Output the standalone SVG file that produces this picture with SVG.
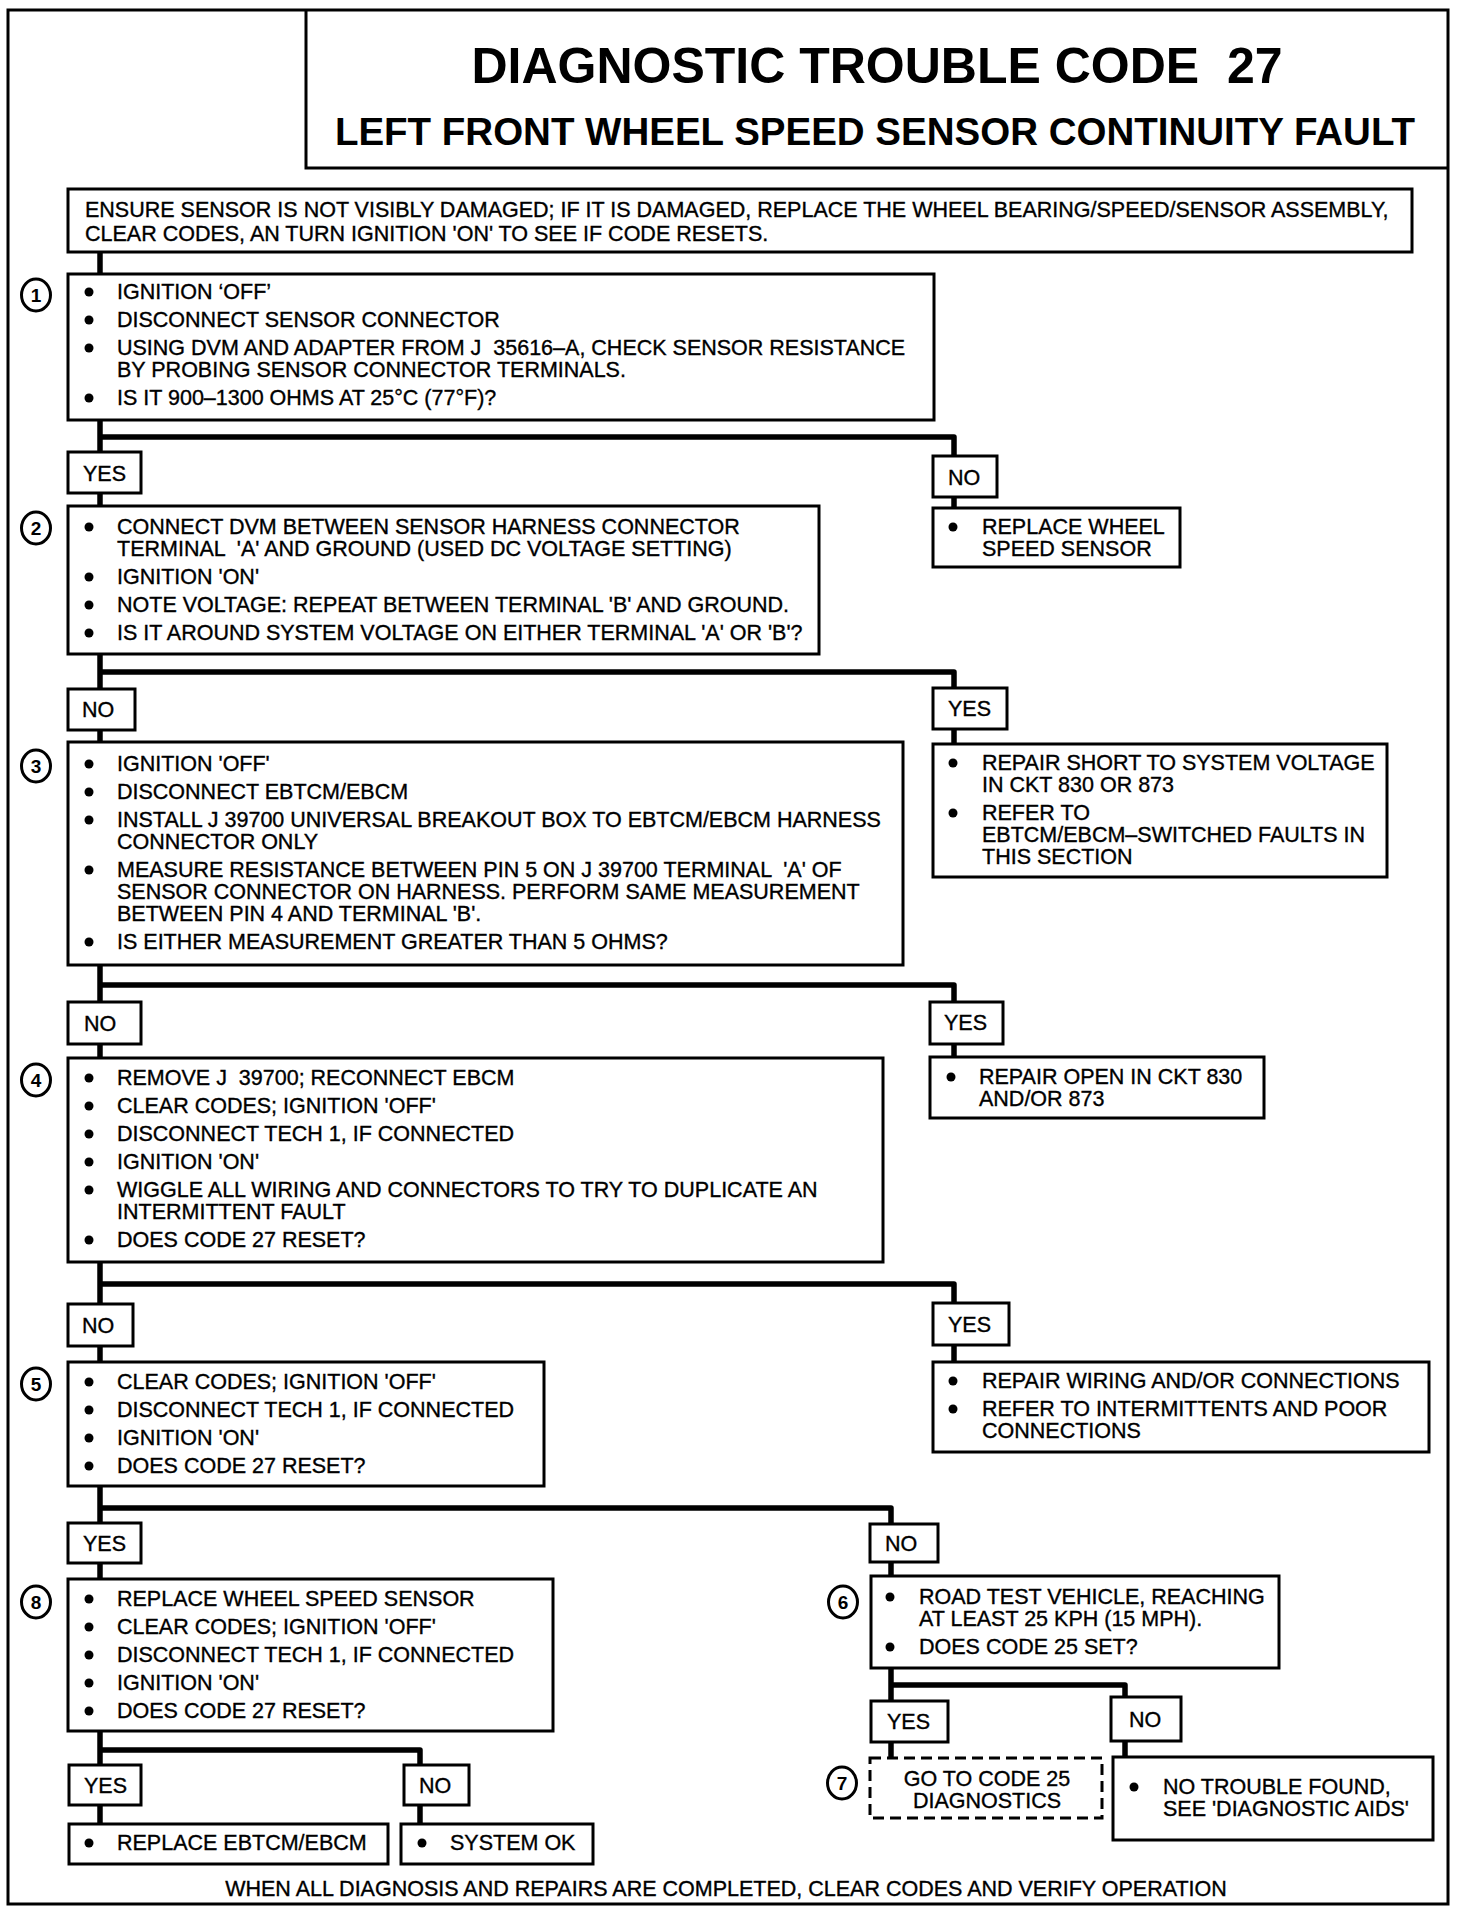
<svg xmlns="http://www.w3.org/2000/svg" width="1472" height="1914" viewBox="0 0 1472 1914">
<style>
  .frame{fill:none;stroke:#000;stroke-width:3}
  .box{fill:#fff;stroke:#000;stroke-width:3}
  .dash{fill:#fff;stroke:#000;stroke-width:3;stroke-dasharray:11 6}
  .conn{fill:none;stroke:#000;stroke-width:5.5;stroke-linejoin:round;stroke-linecap:butt}
  .num{fill:#fff;stroke:#000;stroke-width:3}
  text{font-family:"Liberation Sans",Arial,Helvetica,sans-serif;fill:#000;white-space:pre}
  .t{font-size:21.5px;stroke:#000;stroke-width:0.35}
  .n{font-size:19px;font-weight:bold;text-anchor:middle}
  .c{text-anchor:middle}
  .h1{font-size:50px;font-weight:bold;text-anchor:middle}
  .h2{font-size:38.5px;font-weight:bold;text-anchor:middle}
  .b{fill:#000}
</style>

<rect class="frame" x="8" y="10" width="1440" height="1894"/>

<g id="title">
  <path class="frame" d="M306 10 V168 H1448"/>
  <text class="h1" x="877" y="83">DIAGNOSTIC TROUBLE CODE  27</text>
  <text class="h2" x="875" y="145">LEFT FRONT WHEEL SPEED SENSOR CONTINUITY FAULT</text>
</g>

<g id="connectors">
  <path class="conn" d="M100 252 V274"/>
  <path class="conn" d="M100 420 V452"/>
  <path class="conn" d="M100 437 H954 V456"/>
  <path class="conn" d="M954 497 V508"/>
  <path class="conn" d="M100 493 V506"/>
  <path class="conn" d="M100 654 V689"/>
  <path class="conn" d="M100 672 H954 V688"/>
  <path class="conn" d="M954 729 V744"/>
  <path class="conn" d="M100 730 V742"/>
  <path class="conn" d="M100 965 V1002"/>
  <path class="conn" d="M100 985 H954 V1002"/>
  <path class="conn" d="M954 1044 V1057"/>
  <path class="conn" d="M100 1044 V1058"/>
  <path class="conn" d="M100 1262 V1304"/>
  <path class="conn" d="M100 1284 H954 V1303"/>
  <path class="conn" d="M954 1345 V1362"/>
  <path class="conn" d="M100 1346 V1362"/>
  <path class="conn" d="M100 1486 V1523"/>
  <path class="conn" d="M100 1508 H891 V1524"/>
  <path class="conn" d="M100 1563 V1579"/>
  <path class="conn" d="M891 1562 V1576"/>
  <path class="conn" d="M100 1731 V1765"/>
  <path class="conn" d="M100 1750 H420 V1765"/>
  <path class="conn" d="M100 1805 V1824"/>
  <path class="conn" d="M420 1805 V1824"/>
  <path class="conn" d="M891 1668 V1701"/>
  <path class="conn" d="M891 1685 H1125 V1697"/>
  <path class="conn" d="M891 1742 V1758"/>
  <path class="conn" d="M1125 1741 V1757"/>
</g>

<g id="intro">
  <rect class="box" x="68" y="189" width="1344" height="63"/>
  <text class="t" x="85" y="217">ENSURE SENSOR IS NOT VISIBLY DAMAGED; IF IT IS DAMAGED, REPLACE THE WHEEL BEARING/SPEED/SENSOR ASSEMBLY,</text>
  <text class="t" x="85" y="241">CLEAR CODES, AN TURN IGNITION 'ON' TO SEE IF CODE RESETS.</text>
</g>

<g id="step1">
  <ellipse class="num" cx="36" cy="295" rx="14.5" ry="16"/>
  <text class="n" x="36" y="302">1</text>
  <rect class="box" x="68" y="274" width="866" height="146"/>
  <circle class="b" cx="89" cy="292" r="4.5"/><text class="t" x="117" y="299">IGNITION ‘OFF’</text>
  <circle class="b" cx="89" cy="320" r="4.5"/><text class="t" x="117" y="327">DISCONNECT SENSOR CONNECTOR</text>
  <circle class="b" cx="89" cy="348" r="4.5"/><text class="t" x="117" y="355">USING DVM AND ADAPTER FROM J  35616–A, CHECK SENSOR RESISTANCE</text>
  <text class="t" x="117" y="377">BY PROBING SENSOR CONNECTOR TERMINALS.</text>
  <circle class="b" cx="89" cy="398" r="4.5"/><text class="t" x="117" y="405">IS IT 900–1300 OHMS AT 25°C (77°F)?</text>
</g>

<g id="yes1">
  <rect class="box" x="68" y="452" width="73" height="41"/>
  <text class="t" x="83" y="481">YES</text>
</g>
<g id="no1">
  <rect class="box" x="933" y="456" width="64" height="41"/>
  <text class="t" x="948" y="485">NO</text>
</g>
<g id="replace-sensor">
  <rect class="box" x="933" y="508" width="247" height="59"/>
  <circle class="b" cx="953" cy="527" r="4.5"/><text class="t" x="982" y="534">REPLACE WHEEL</text>
  <text class="t" x="982" y="556">SPEED SENSOR</text>
</g>

<g id="step2">
  <ellipse class="num" cx="36" cy="528" rx="14.5" ry="16"/>
  <text class="n" x="36" y="535">2</text>
  <rect class="box" x="68" y="506" width="751" height="148"/>
  <circle class="b" cx="89" cy="527" r="4.5"/><text class="t" x="117" y="534">CONNECT DVM BETWEEN SENSOR HARNESS CONNECTOR</text>
  <text class="t" x="117" y="556">TERMINAL  'A' AND GROUND (USED DC VOLTAGE SETTING)</text>
  <circle class="b" cx="89" cy="577" r="4.5"/><text class="t" x="117" y="584">IGNITION 'ON'</text>
  <circle class="b" cx="89" cy="605" r="4.5"/><text class="t" x="117" y="612">NOTE VOLTAGE: REPEAT BETWEEN TERMINAL 'B' AND GROUND.</text>
  <circle class="b" cx="89" cy="633" r="4.5"/><text class="t" x="117" y="640">IS IT AROUND SYSTEM VOLTAGE ON EITHER TERMINAL 'A' OR 'B'?</text>
</g>

<g id="no2">
  <rect class="box" x="68" y="689" width="67" height="41"/>
  <text class="t" x="82" y="717">NO</text>
</g>
<g id="yes2">
  <rect class="box" x="933" y="688" width="74" height="41"/>
  <text class="t" x="948" y="716">YES</text>
</g>
<g id="repair-short">
  <rect class="box" x="933" y="744" width="454" height="133"/>
  <circle class="b" cx="953" cy="763" r="4.5"/><text class="t" x="982" y="770">REPAIR SHORT TO SYSTEM VOLTAGE</text>
  <text class="t" x="982" y="792">IN CKT 830 OR 873</text>
  <circle class="b" cx="953" cy="813" r="4.5"/><text class="t" x="982" y="820">REFER TO</text>
  <text class="t" x="982" y="842">EBTCM/EBCM–SWITCHED FAULTS IN</text>
  <text class="t" x="982" y="864">THIS SECTION</text>
</g>

<g id="step3">
  <ellipse class="num" cx="36" cy="766" rx="14.5" ry="16"/>
  <text class="n" x="36" y="773">3</text>
  <rect class="box" x="68" y="742" width="835" height="223"/>
  <circle class="b" cx="89" cy="764" r="4.5"/><text class="t" x="117" y="771">IGNITION 'OFF'</text>
  <circle class="b" cx="89" cy="792" r="4.5"/><text class="t" x="117" y="799">DISCONNECT EBTCM/EBCM</text>
  <circle class="b" cx="89" cy="820" r="4.5"/><text class="t" x="117" y="827">INSTALL J 39700 UNIVERSAL BREAKOUT BOX TO EBTCM/EBCM HARNESS</text>
  <text class="t" x="117" y="849">CONNECTOR ONLY</text>
  <circle class="b" cx="89" cy="870" r="4.5"/><text class="t" x="117" y="877">MEASURE RESISTANCE BETWEEN PIN 5 ON J 39700 TERMINAL  'A' OF</text>
  <text class="t" x="117" y="899">SENSOR CONNECTOR ON HARNESS. PERFORM SAME MEASUREMENT</text>
  <text class="t" x="117" y="921">BETWEEN PIN 4 AND TERMINAL 'B'.</text>
  <circle class="b" cx="89" cy="942" r="4.5"/><text class="t" x="117" y="949">IS EITHER MEASUREMENT GREATER THAN 5 OHMS?</text>
</g>

<g id="no3">
  <rect class="box" x="68" y="1002" width="73" height="42"/>
  <text class="t" x="84" y="1031">NO</text>
</g>
<g id="yes3">
  <rect class="box" x="930" y="1002" width="73" height="42"/>
  <text class="t" x="944" y="1030">YES</text>
</g>
<g id="repair-open">
  <rect class="box" x="930" y="1057" width="334" height="61"/>
  <circle class="b" cx="951" cy="1077" r="4.5"/><text class="t" x="979" y="1084">REPAIR OPEN IN CKT 830</text>
  <text class="t" x="979" y="1106">AND/OR 873</text>
</g>

<g id="step4">
  <ellipse class="num" cx="36" cy="1080" rx="14.5" ry="16"/>
  <text class="n" x="36" y="1087">4</text>
  <rect class="box" x="68" y="1058" width="815" height="204"/>
  <circle class="b" cx="89" cy="1078" r="4.5"/><text class="t" x="117" y="1085">REMOVE J  39700; RECONNECT EBCM</text>
  <circle class="b" cx="89" cy="1106" r="4.5"/><text class="t" x="117" y="1113">CLEAR CODES; IGNITION 'OFF'</text>
  <circle class="b" cx="89" cy="1134" r="4.5"/><text class="t" x="117" y="1141">DISCONNECT TECH 1, IF CONNECTED</text>
  <circle class="b" cx="89" cy="1162" r="4.5"/><text class="t" x="117" y="1169">IGNITION 'ON'</text>
  <circle class="b" cx="89" cy="1190" r="4.5"/><text class="t" x="117" y="1197">WIGGLE ALL WIRING AND CONNECTORS TO TRY TO DUPLICATE AN</text>
  <text class="t" x="117" y="1219">INTERMITTENT FAULT</text>
  <circle class="b" cx="89" cy="1240" r="4.5"/><text class="t" x="117" y="1247">DOES CODE 27 RESET?</text>
</g>

<g id="no4">
  <rect class="box" x="68" y="1304" width="65" height="42"/>
  <text class="t" x="82" y="1333">NO</text>
</g>
<g id="yes4">
  <rect class="box" x="933" y="1303" width="76" height="42"/>
  <text class="t" x="948" y="1332">YES</text>
</g>
<g id="repair-wiring">
  <rect class="box" x="933" y="1362" width="496" height="90"/>
  <circle class="b" cx="953" cy="1381" r="4.5"/><text class="t" x="982" y="1388">REPAIR WIRING AND/OR CONNECTIONS</text>
  <circle class="b" cx="953" cy="1409" r="4.5"/><text class="t" x="982" y="1416">REFER TO INTERMITTENTS AND POOR</text>
  <text class="t" x="982" y="1438">CONNECTIONS</text>
</g>

<g id="step5">
  <ellipse class="num" cx="36" cy="1384" rx="14.5" ry="16"/>
  <text class="n" x="36" y="1391">5</text>
  <rect class="box" x="68" y="1362" width="476" height="124"/>
  <circle class="b" cx="89" cy="1382" r="4.5"/><text class="t" x="117" y="1389">CLEAR CODES; IGNITION 'OFF'</text>
  <circle class="b" cx="89" cy="1410" r="4.5"/><text class="t" x="117" y="1417">DISCONNECT TECH 1, IF CONNECTED</text>
  <circle class="b" cx="89" cy="1438" r="4.5"/><text class="t" x="117" y="1445">IGNITION 'ON'</text>
  <circle class="b" cx="89" cy="1466" r="4.5"/><text class="t" x="117" y="1473">DOES CODE 27 RESET?</text>
</g>

<g id="yes5">
  <rect class="box" x="68" y="1523" width="73" height="40"/>
  <text class="t" x="83" y="1551">YES</text>
</g>
<g id="no5">
  <rect class="box" x="870" y="1524" width="68" height="38"/>
  <text class="t" x="885" y="1551">NO</text>
</g>

<g id="step8">
  <ellipse class="num" cx="36" cy="1602" rx="14.5" ry="16"/>
  <text class="n" x="36" y="1609">8</text>
  <rect class="box" x="68" y="1579" width="485" height="152"/>
  <circle class="b" cx="89" cy="1599" r="4.5"/><text class="t" x="117" y="1606">REPLACE WHEEL SPEED SENSOR</text>
  <circle class="b" cx="89" cy="1627" r="4.5"/><text class="t" x="117" y="1634">CLEAR CODES; IGNITION 'OFF'</text>
  <circle class="b" cx="89" cy="1655" r="4.5"/><text class="t" x="117" y="1662">DISCONNECT TECH 1, IF CONNECTED</text>
  <circle class="b" cx="89" cy="1683" r="4.5"/><text class="t" x="117" y="1690">IGNITION 'ON'</text>
  <circle class="b" cx="89" cy="1711" r="4.5"/><text class="t" x="117" y="1718">DOES CODE 27 RESET?</text>
</g>

<g id="yes8">
  <rect class="box" x="69" y="1765" width="72" height="40"/>
  <text class="t" x="84" y="1793">YES</text>
</g>
<g id="no8">
  <rect class="box" x="404" y="1765" width="65" height="40"/>
  <text class="t" x="419" y="1793">NO</text>
</g>
<g id="replace-ebcm">
  <rect class="box" x="69" y="1824" width="319" height="40"/>
  <circle class="b" cx="89" cy="1843" r="4.5"/><text class="t" x="117" y="1850">REPLACE EBTCM/EBCM</text>
</g>
<g id="system-ok">
  <rect class="box" x="401" y="1824" width="192" height="40"/>
  <circle class="b" cx="422" cy="1843" r="4.5"/><text class="t" x="450" y="1850">SYSTEM OK</text>
</g>

<g id="step6">
  <ellipse class="num" cx="843" cy="1602" rx="14.5" ry="16"/>
  <text class="n" x="843" y="1609">6</text>
  <rect class="box" x="871" y="1576" width="408" height="92"/>
  <circle class="b" cx="890" cy="1597" r="4.5"/><text class="t" x="919" y="1604">ROAD TEST VEHICLE, REACHING</text>
  <text class="t" x="919" y="1626">AT LEAST 25 KPH (15 MPH).</text>
  <circle class="b" cx="890" cy="1647" r="4.5"/><text class="t" x="919" y="1654">DOES CODE 25 SET?</text>
</g>

<g id="yes6">
  <rect class="box" x="871" y="1701" width="77" height="41"/>
  <text class="t" x="887" y="1729">YES</text>
</g>
<g id="no6">
  <rect class="box" x="1111" y="1697" width="70" height="44"/>
  <text class="t" x="1129" y="1727">NO</text>
</g>

<g id="step7">
  <ellipse class="num" cx="842" cy="1783" rx="14.5" ry="16"/>
  <text class="n" x="842" y="1790">7</text>
  <rect class="dash" x="870" y="1758" width="232" height="60"/>
  <text class="t c" x="987" y="1786">GO TO CODE 25</text>
  <text class="t c" x="987" y="1808">DIAGNOSTICS</text>
</g>

<g id="no-trouble">
  <rect class="box" x="1113" y="1757" width="320" height="83"/>
  <circle class="b" cx="1134" cy="1787" r="4.5"/><text class="t" x="1163" y="1794">NO TROUBLE FOUND,</text>
  <text class="t" x="1163" y="1816">SEE 'DIAGNOSTIC AIDS'</text>
</g>

<g id="footer">
  <text class="t c" x="726" y="1896">WHEN ALL DIAGNOSIS AND REPAIRS ARE COMPLETED, CLEAR CODES AND VERIFY OPERATION</text>
</g>
</svg>
